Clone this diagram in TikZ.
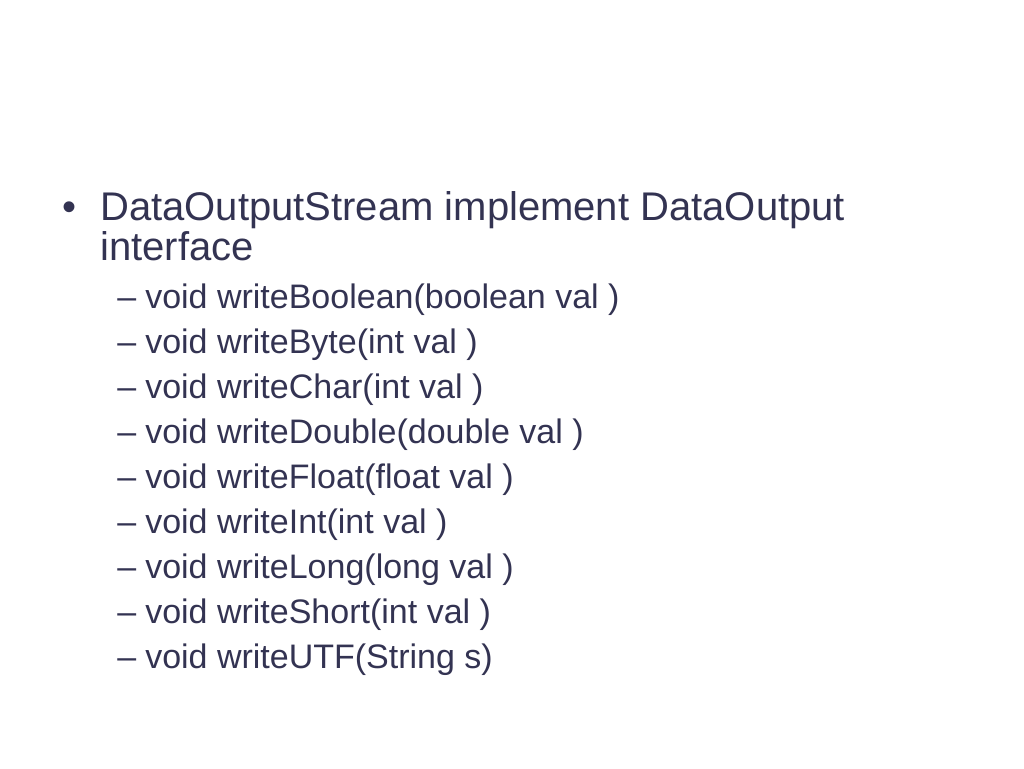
\documentclass[tikz,border=0pt]{standalone}
\usepackage{fontspec}
\setmainfont{Liberation Sans}
\definecolor{slateink}{RGB}{51,51,82}

\begin{document}
\begin{tikzpicture}[x=0.75pt,y=0.75pt,yscale=-1,xscale=1,
  mainitem/.style={anchor=base west,inner sep=0pt,text=slateink,font=\fontsize{30}{36}\selectfont},
  subitem/.style={anchor=base west,inner sep=0pt,text=slateink,font=\fontsize{25.5}{30}\selectfont}]
%set diagram left start at 0, and has height of 768
\useasboundingbox (0,0) rectangle (1024,768);

% Text Node
\draw (62,220) node [mainitem] (bul)   {•};
% Text Node
\draw (100,220) node [mainitem] (head)  {DataOutputStream implement DataOutput};
% Text Node
\draw (100,260) node [mainitem] (head2) {interface};

% Text Node
\draw (117,308) node [subitem] (d1) {–};
\draw (145,308) node [subitem] (m1) {void writeBoolean(boolean val )};
% Text Node
\draw (117,353) node [subitem] (d2) {–};
\draw (145,353) node [subitem] (m2) {void writeByte(int val )};
% Text Node
\draw (117,398) node [subitem] (d3) {–};
\draw (145,398) node [subitem] (m3) {void writeChar(int val )};
% Text Node
\draw (117,443) node [subitem] (d4) {–};
\draw (145,443) node [subitem] (m4) {void writeDouble(double val )};
% Text Node
\draw (117,488) node [subitem] (d5) {–};
\draw (145,488) node [subitem] (m5) {void writeFloat(float val )};
% Text Node
\draw (117,533) node [subitem] (d6) {–};
\draw (145,533) node [subitem] (m6) {void writeInt(int val )};
% Text Node
\draw (117,578) node [subitem] (d7) {–};
\draw (145,578) node [subitem] (m7) {void writeLong(long val )};
% Text Node
\draw (117,623) node [subitem] (d8) {–};
\draw (145,623) node [subitem] (m8) {void writeShort(int val )};
% Text Node
\draw (117,668) node [subitem] (d9) {–};
\draw (145,668) node [subitem] (m9) {void writeUTF(String s)};

\end{tikzpicture}
\end{document}
